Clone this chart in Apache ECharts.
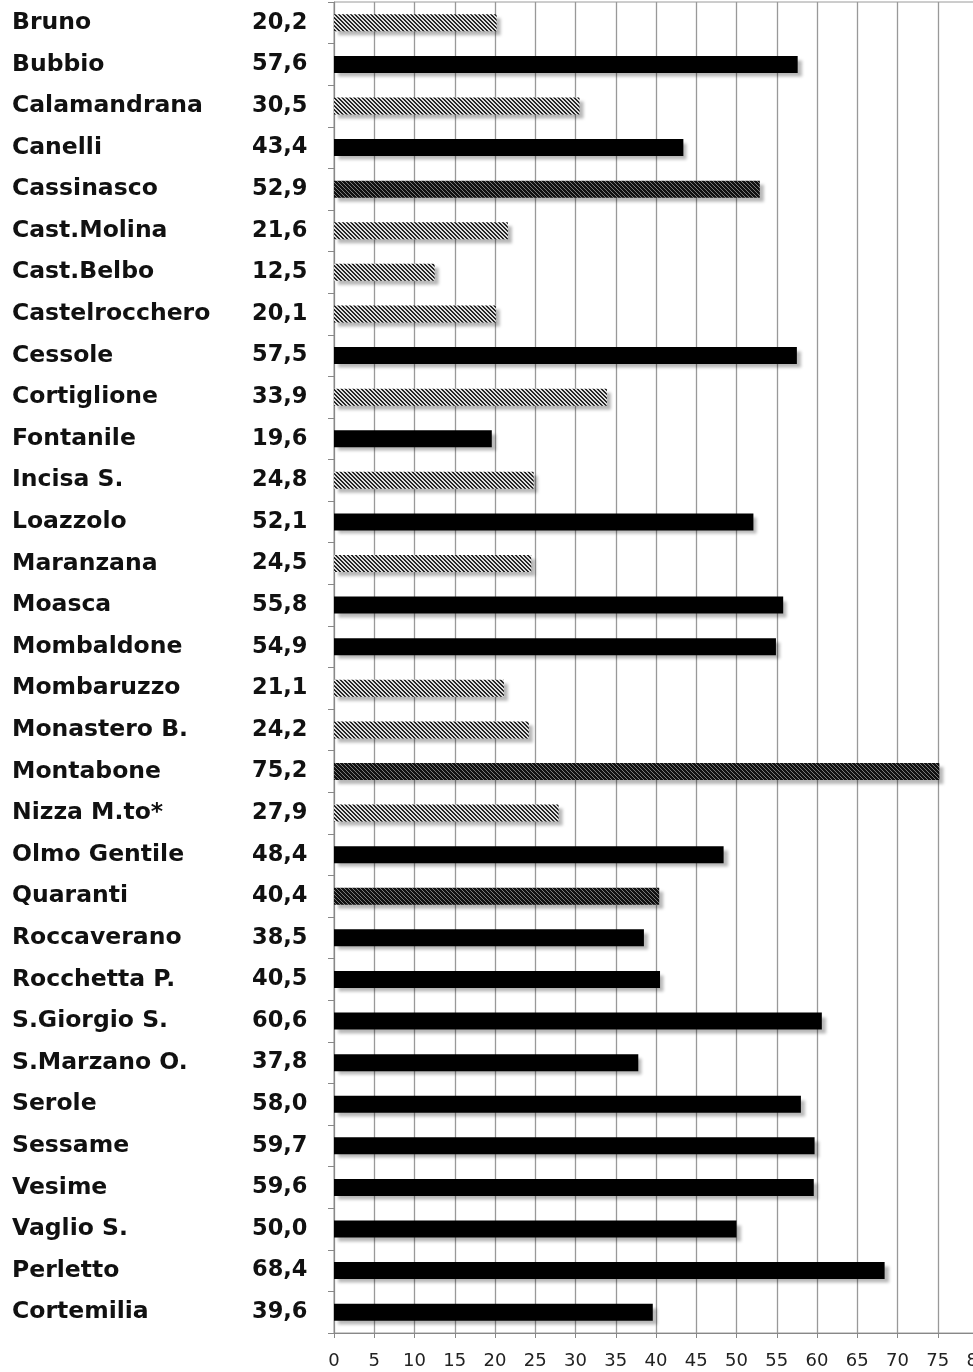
<!DOCTYPE html>
<html>
<head>
<meta charset="utf-8">
<script src="https://cdn.jsdelivr.net/npm/echarts@6/dist/echarts.min.js"></script>
<style>
html,body{margin:0;padding:0;background:#fff;}
#chart{width:973px;height:1372px;}
</style>
</head>
<body>
<div id="chart"></div>
<script>
const comuni = ['Bruno','Bubbio','Calamandrana','Canelli','Cassinasco','Cast.Molina','Cast.Belbo','Castelrocchero','Cessole','Cortiglione','Fontanile','Incisa S.','Loazzolo','Maranzana','Moasca','Mombaldone','Mombaruzzo','Monastero B.','Montabone','Nizza M.to*','Olmo Gentile','Quaranti','Roccaverano','Rocchetta P.','S.Giorgio S.','S.Marzano O.','Serole','Sessame','Vesime','Vaglio S.','Perletto','Cortemilia'];
const valori = [20.2,57.6,30.5,43.4,52.9,21.6,12.5,20.1,57.5,33.9,19.6,24.8,52.1,24.5,55.8,54.9,21.1,24.2,75.2,27.9,48.4,40.4,38.5,40.5,60.6,37.8,58.0,59.7,59.6,50.0,68.4,39.6];
// group of each comune (A, B, C)
const gruppi = ['B','A','B','A','C','B','B','B','A','B','A','B','A','B','A','A','B','B','C','B','A','C','A','A','A','A','A','A','A','A','A','A'];
const xTicks = [0,5,10,15,20,25,30,35,40,45,50,55,60,65,70,75,80];

function hatch(bg, fg, test){
  const s = 4, c = document.createElement('canvas');
  c.width = s; c.height = s;
  const g = c.getContext('2d');
  g.fillStyle = bg; g.fillRect(0,0,s,s);
  g.fillStyle = fg;
  for (let x=0;x<s;x++) for (let y=0;y<s;y++){
    if (test(((x - y) % s + s) % s)) g.fillRect(x,y,1,1);
  }
  return {image: c, repeat: 'repeat'};
}
const fills = {
  A: '#000000',
  B: hatch('#dedede', '#262626', d => d < 2),
  C: hatch('#111111', '#7a7a7a', d => d === 0)
};

const fmt = v => v.toFixed(1).replace('.', ',');

const chart = echarts.init(document.getElementById('chart'), null, {renderer:'canvas'});
chart.setOption({
  animation: false,
  backgroundColor: '#ffffff',
  grid: {left: 334, top: 2, width: 644, bottom: 39, outerBoundsMode: 'none', containLabel: false,
         show: true, borderColor: '#9a9a9a', borderWidth: 1, backgroundColor: 'transparent'},
  xAxis: {
    type: 'value', min: xTicks[0], max: xTicks[xTicks.length-1], interval: 5,
    axisLine: {show: true, lineStyle: {color: '#888', width: 1}},
    axisTick: {show: true, length: 5, lineStyle: {color: '#888'}},
    axisLabel: {margin: 19, fontFamily: 'DejaVu Sans', fontSize: 18, color: '#222', showMaxLabel: true, hideOverlap: false},
    splitLine: {show: true, lineStyle: {color: '#999', width: 1.3}}
  },
  yAxis: {
    type: 'category', inverse: true, data: comuni,
    axisLine: {show: true, lineStyle: {color: '#888', width: 1}},
    axisTick: {show: true, length: 6, lineStyle: {color: '#888'}},
    axisLabel: {
      align: 'left', margin: 322,
      formatter: (name, i) => '{n|' + name + '}{v|' + fmt(valori[i]) + '}',
      rich: {
        n: {width: 240, fontFamily: 'DejaVu Sans', fontWeight: 'bold', fontSize: 23.5, color: '#111'},
        v: {fontFamily: 'DejaVu Sans', fontWeight: 'bold', fontSize: 22.5, color: '#111'}
      }
    }
  },
  series: [{
    type: 'bar', barWidth: 17,
    data: valori.map((v, i) => ({
      value: v,
      itemStyle: {color: fills[gruppi[i]]}
    })),
    itemStyle: {shadowColor: 'rgba(0,0,0,0.28)', shadowBlur: 3, shadowOffsetX: 4, shadowOffsetY: 4}
  }]
});
</script>
</body>
</html>
